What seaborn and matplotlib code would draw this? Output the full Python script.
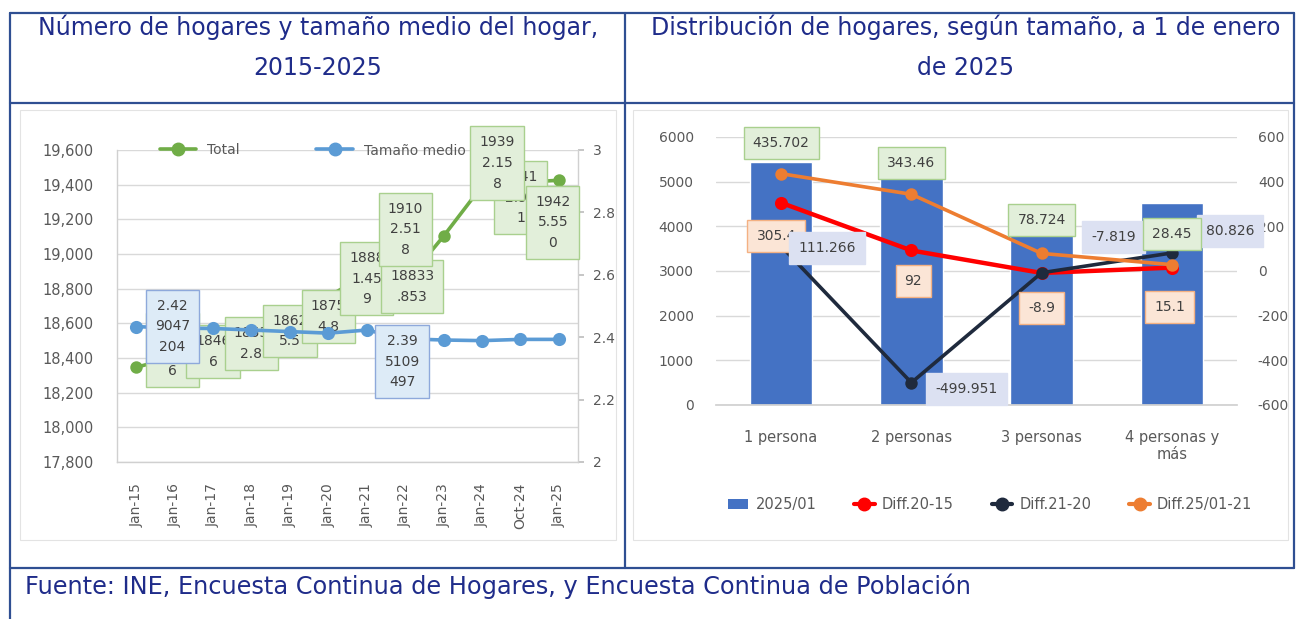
import numpy as np
import pandas as pd
import seaborn as sns
import matplotlib.pyplot as plt
from matplotlib.lines import Line2D
from matplotlib.patches import Patch, Rectangle

# --- datos gráfico izquierdo: número de hogares (miles) y tamaño medio ---
periodos = ['Jan-15', 'Jan-16', 'Jan-17', 'Jan-18', 'Jan-19', 'Jan-20',
            'Jan-21', 'Jan-22', 'Jan-23', 'Jan-24', 'Oct-24', 'Jan-25']
total_hogares = [18346.2, 18406.1, 18466.0, 18535.9, 18625.7, 18754.8,
                 18881.459, 18833.853, 19102.518, 19392.158, 19412.0, 19425.550]
tamano_medio = [2.434, 2.429, 2.428, 2.423, 2.418, 2.413,
                2.423, 2.395, 2.391, 2.389, 2.393, 2.393]
# etiquetas tal como aparecen (texto partido por Excel)
etiq_total = [None, '1840\n6.14\n6', '1846\n6', '1853\n2.8', '1862\n5.5', '1875\n4.8',
              '1888\n1.45\n9', '18833\n.853', '1910\n2.51\n8', '1939\n2.15\n8',
              '1941\n2.93\n1', '1942\n5.55\n0']
etiq_tamano = [None, '2.42\n9047\n204', None, None, None, None,
               None, '2.39\n5109\n497', None, None, None, None]

# --- datos gráfico derecho: hogares por tamaño a 1/1/2025 ---
tamanos = ['1 persona', '2 personas', '3 personas', '4 personas y\nmás']
hogares_2025 = [5436, 5500, 3950, 4530]
diff_20_15 = [305.4, 92, -8.9, 15.1]
diff_21_20 = [111.266, -499.951, -7.819, 80.826]
diff_25_21 = [435.702, 343.46, 78.724, 28.45]

W, H = 1297, 619


def caja(x0, y0, x1, y1):
    return [x0 / W, 1 - y1 / H, (x1 - x0) / W, (y1 - y0) / H]


def linea(fig, x0, y0, x1, y1, color, lw=1.6):
    fig.add_artist(Line2D([x0 / W, x1 / W], [1 - y0 / H, 1 - y1 / H],
                          transform=fig.transFigure, color=color, lw=lw))


sns.set_theme(style='white')
plt.rcParams['font.family'] = ['DejaVu Sans']
plt.rcParams['axes.unicode_minus'] = False

gris = '#595959'
verde, azul = '#70AD47', '#5B9BD5'

fig = plt.figure(figsize=(W / 100, H / 100), dpi=100)

# marco de la tabla
marco = '#2F4F92'
linea(fig, 10, 13, 1294, 13, marco)
linea(fig, 10, 103, 1294, 103, marco)
linea(fig, 10, 568, 1294, 568, marco)
linea(fig, 10, 13, 10, 619, marco)
linea(fig, 625, 13, 625, 568, marco)
linea(fig, 1294, 13, 1294, 568, marco)
for r in [(20, 110, 616, 540), (633, 110, 1288, 540)]:
    fig.add_artist(Rectangle((r[0] / W, 1 - r[3] / H), (r[2] - r[0]) / W, (r[3] - r[1]) / H,
                             transform=fig.transFigure, fill=False, ec='#E3E3E3', lw=0.8))

color_tit = '#1F2C8A'
fig.text(318 / W, 1 - 35 / H, 'Número de hogares y tamaño medio del hogar,',
         ha='center', va='baseline', fontsize=17, color=color_tit)
fig.text(318 / W, 1 - 75 / H, '2015-2025', ha='center', va='baseline', fontsize=17, color=color_tit)
fig.text(966 / W, 1 - 35 / H, 'Distribución de hogares, según tamaño, a 1 de enero',
         ha='center', va='baseline', fontsize=17, color=color_tit)
fig.text(966 / W, 1 - 75 / H, 'de 2025', ha='center', va='baseline', fontsize=17, color=color_tit)
fig.text(25 / W, 1 - 594 / H, 'Fuente: INE, Encuesta Continua de Hogares, y Encuesta Continua de Población',
         ha='left', va='baseline', fontsize=17.3, color=color_tit)

# ================= gráfico izquierdo =================
ax1 = fig.add_axes(caja(117, 150, 578, 462))
ax1b = ax1.twinx()

sns.pointplot(x=periodos, y=total_hogares, ax=ax1, color=verde, markers='o',
              linestyles='-', errorbar=None, linewidth=2.6, markersize=7, zorder=2)
sns.pointplot(x=periodos, y=tamano_medio, ax=ax1b, color=azul, markers='o',
              linestyles='-', errorbar=None, linewidth=2.6, markersize=7.5, zorder=4)

ax1.set_xlim(-0.5, len(periodos) - 0.5)
ax1.set_ylim(17800, 19600)
ax1.set_yticks(np.arange(17800, 19601, 200))
ax1.set_yticklabels([f'{v:,}' for v in range(17800, 19601, 200)])
ax1b.set_ylim(2, 3)
ax1b.set_yticks([2, 2.2, 2.4, 2.6, 2.8, 3])
ax1b.set_yticklabels(['2', '2.2', '2.4', '2.6', '2.8', '3'])
ax1.yaxis.grid(True, color='#D9D9D9', lw=1)
ax1.set_axisbelow(True)
ax1.set_xlabel('')
ax1.set_ylabel('')
ax1b.set_ylabel('')
ax1.tick_params(axis='x', rotation=90, labelsize=10, labelcolor=gris, pad=9, bottom=False)
ax1.tick_params(axis='y', labelsize=10.5, labelcolor=gris, pad=11, left=False)
ax1b.tick_params(axis='y', labelsize=10, labelcolor=gris, pad=7, right=True,
                 length=4, color='#BFBFBF')
for ax in (ax1, ax1b):
    for s in ax.spines.values():
        s.set_visible(False)
ax1.spines['left'].set_visible(True)
ax1.spines['bottom'].set_visible(True)
ax1b.spines['right'].set_visible(True)
for s in (ax1.spines['left'], ax1.spines['bottom'], ax1b.spines['right']):
    s.set_color('#D0D0D0')
    s.set_linewidth(1)

# etiquetas de datos (centros en píxeles relativos al punto)
off_total = [None, (-2, -7), (0, 5), (0, 9), (0, 12), (0, 20),
             (0, 4), (7, 4), (-38, -7), (15, -23), (0, 15), (-6, 42)]
orden = [1, 2, 3, 4, 5, 6, 7, 10, 8, 9, 11]
for i in orden:
    dx, dy = off_total[i]
    ax1b.annotate(etiq_total[i], xy=(i, total_hogares[i]), xycoords=ax1.transData,
                  xytext=(dx, -dy), textcoords='offset pixels', ha='center', va='center',
                  fontsize=10, color='#404040', linespacing=1.6, zorder=3,
                  bbox=dict(boxstyle='square,pad=0.65', fc='#E2EFDA', ec='#A9D08E', lw=1))
off_tamano = {1: (-2, -2), 7: (-3, 23)}
for i, (dx, dy) in off_tamano.items():
    ax1b.annotate(etiq_tamano[i], xy=(i, tamano_medio[i]), xytext=(dx, -dy),
                  textcoords='offset pixels', ha='center', va='center',
                  fontsize=10, color='#404040', linespacing=1.6, zorder=6,
                  bbox=dict(boxstyle='square,pad=0.65', fc='#DDEBF7', ec='#8EA9DB', lw=1))

ax1.legend(handles=[Line2D([0], [0], color=verde, lw=2.6, marker='o', ms=9),
                    Line2D([0], [0], color=azul, lw=2.6, marker='o', ms=9)],
           labels=['Total', 'Tamaño medio (der.)'], loc='center',
           bbox_to_anchor=(0.47, 1.0), ncol=2, frameon=False, fontsize=10,
           handlelength=2.6, columnspacing=5.5, labelcolor=gris)

# ================= gráfico derecho =================
ax2 = fig.add_axes(caja(716, 137, 1237, 405))
ax2b = ax2.twinx()

sns.barplot(x=tamanos, y=hogares_2025, ax=ax2, color='#4472C4', saturation=1,
            width=0.48, errorbar=None, zorder=2)
series = [(diff_20_15, '#FF0000', 3.2), (diff_21_20, '#1F2A3D', 2.6), (diff_25_21, '#ED7D31', 2.6)]
for vals, col, lw in series:
    sns.pointplot(x=tamanos, y=vals, ax=ax2b, color=col, markers='o', linestyles='-',
                  errorbar=None, linewidth=lw, markersize=7)

ax2.set_xlim(-0.5, len(tamanos) - 0.5)
ax2.set_ylim(0, 6000)
ax2.set_yticks(range(0, 6001, 1000))
ax2b.set_ylim(-600, 600)
ax2b.set_yticks(range(-600, 601, 200))
ax2.yaxis.grid(True, color='#D9D9D9', lw=1)
ax2.set_axisbelow(True)
ax2.set_xlabel('')
ax2.set_ylabel('')
ax2b.set_ylabel('')
ax2.tick_params(axis='x', labelsize=10.5, labelcolor=gris, pad=12, bottom=False)
ax2.tick_params(axis='y', labelsize=10, labelcolor=gris, pad=10, left=False)
ax2b.tick_params(axis='y', labelsize=10, labelcolor=gris, pad=9, right=False)
for ax in (ax2, ax2b):
    for s in ax.spines.values():
        s.set_visible(False)
ax2.spines['bottom'].set_visible(True)
ax2.spines['bottom'].set_color('#D0D0D0')

# etiquetas de datos del gráfico derecho
etq = [(diff_20_15, [(-5, 33), (2, 31), (0, 35), (-2, 39)], '#FBE5D6', '#F4B183', 6),
       (diff_21_20, [(46, 2), (55, 6), (72, -36), (58, -22)], '#DCE1F2', '#DCE1F2', 7),
       (diff_25_21, [(0, -31), (0, -31), (0, -33), (0, -31)], '#E2EFDA', '#A9D08E', 8)]
for vals, offs, fc, ec, z in etq:
    for i, v in enumerate(vals):
        dx, dy = offs[i]
        ax2b.annotate(f'{v:g}', xy=(i, v), xytext=(dx, -dy), textcoords='offset pixels',
                      ha='center', va='center', fontsize=10, color='#404040', zorder=z,
                      bbox=dict(boxstyle='square,pad=0.65', fc=fc, ec=ec, lw=1))

ax2.legend(handles=[Patch(fc='#4472C4', ec='none'),
                    Line2D([0], [0], color='#FF0000', lw=3, marker='o', ms=9),
                    Line2D([0], [0], color='#1F2A3D', lw=3, marker='o', ms=9),
                    Line2D([0], [0], color='#ED7D31', lw=3, marker='o', ms=9)],
           labels=['2025/01', 'Diff.20-15', 'Diff.21-20', 'Diff.25/01-21'],
           loc='center', bbox_to_anchor=(0.526, -0.373), ncol=4, frameon=False,
           fontsize=10.5, handlelength=1.4, columnspacing=2.6, handletextpad=0.5,
           labelcolor=gris)

fig.savefig('out.png', dpi=100, facecolor='white')
